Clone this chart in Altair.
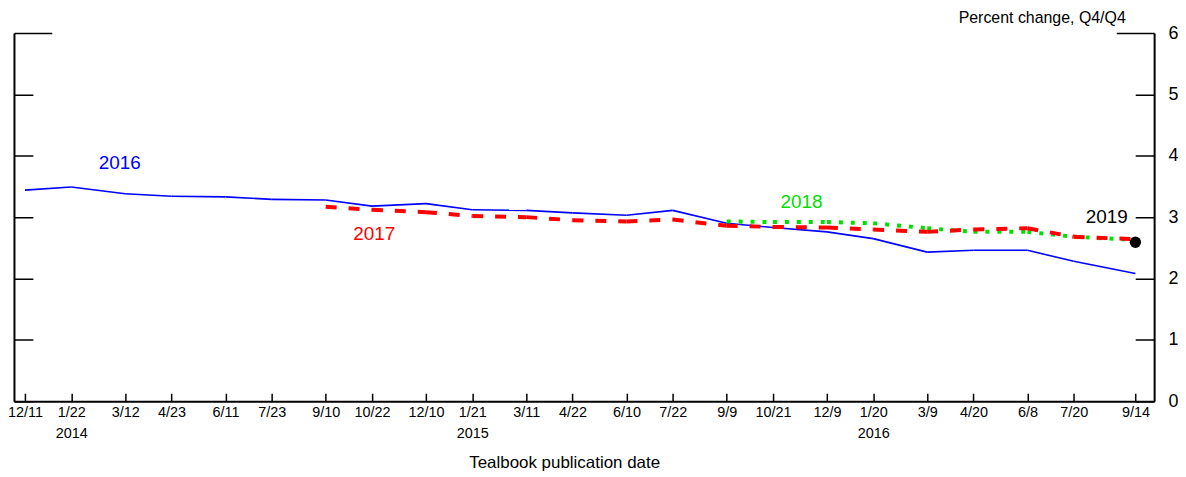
import altair as alt
import pandas as pd

# Tealbook publication dates
dates = [
    "2013-12-11", "2014-01-22", "2014-03-12", "2014-04-23", "2014-06-11",
    "2014-07-23", "2014-09-10", "2014-10-22", "2014-12-10", "2015-01-21",
    "2015-03-11", "2015-04-22", "2015-06-10", "2015-07-22", "2015-09-09",
    "2015-10-21", "2015-12-09", "2016-01-20", "2016-03-09", "2016-04-20",
    "2016-06-08", "2016-07-20", "2016-09-14",
]

# Forecasts (percent change, Q4/Q4) for each year, aligned to the last dates
year_2016 = [3.44, 3.49, 3.38, 3.34, 3.33, 3.29, 3.28, 3.18, 3.22, 3.12, 3.11,
             3.07, 3.03, 3.11, 2.90, 2.83, 2.76, 2.65, 2.43, 2.46, 2.46, 2.28, 2.08]
year_2017 = [3.17, 3.12, 3.08, 3.02, 3.00, 2.95, 2.93, 2.96, 2.86, 2.84, 2.83,
             2.80, 2.76, 2.80, 2.82, 2.68, 2.64]
year_2018 = [2.93, 2.92, 2.92, 2.90, 2.82, 2.76, 2.76, 2.68, 2.63]
year_2019 = [2.59]

series_names = ["2016", "2017", "2018", "2019"]
series_colors = ["#0000ff", "#ff0000", "#00e000", "#000000"]
label_dates = ["2014-03-07", "2014-10-24", "2015-11-16", "2016-08-19"]
label_values = [3.89, 2.73, 3.25, 3.00]
y_ticks = [0, 1, 2, 3, 4, 5, 6]


def segments(vals):
    start = len(dates) - len(vals)
    d = dates[start:]
    rows = []
    for i in range(len(vals) - 1):
        rows.append({"seg": i, "date": d[i], "value": vals[i]})
        rows.append({"seg": i, "date": d[i + 1], "value": vals[i + 1]})
    return pd.DataFrame(rows)


def dt(s):
    y, m, d = (int(p) for p in s.split("-"))
    return alt.DateTime(year=y, month=m, date=d, utc=True)


FONT = "Liberation Sans"

x_axis = alt.Axis(
    values=[dt(s) for s in dates],
    domain=True, domainColor="black", domainWidth=2,
    ticks=False,
    grid=True, gridColor="black", gridWidth=1.5, gridOpacity=1,
    gridDash=[0, 362, 8, 1000],
    labelExpr="utcmonth(datum.value) == 0 ? [utcFormat(datum.value, '%-m/%-d'), utcFormat(datum.value, '%Y')] : utcFormat(datum.value, '%-m/%-d')",
    labelFontSize=14.5, labelFont=FONT, labelColor="black",
    labelPadding=4, labelLineHeight=22,
    labelFlush=False, labelOverlap=False, labelBound=False,
    title="Tealbook publication date", titleFont=FONT, titleFontSize=17,
    titleFontWeight="normal", titleColor="black",
    titleX=553, titleY=67, titleAlign="center", titleBaseline="alphabetic",
)

x_enc = alt.X(
    "date:T",
    scale=alt.Scale(type="utc", domain=[dt("2013-12-01"), dt("2016-10-01")]),
    axis=x_axis,
)

y_scale = alt.Scale(domain=[0, 6])

left_axis = alt.Axis(
    orient="left", values=y_ticks,
    domain=True, domainColor="black", domainWidth=2,
    ticks=False, labels=False, title=None,
    grid=True, gridColor="black", gridWidth=1.5, gridOpacity=1,
    gridDash={"condition": {"test": "datum.value == 6", "value": [38, 1070]},
              "value": [19, 1108]},
)

right_axis = alt.Axis(
    orient="right", values=y_ticks,
    domain=True, domainColor="black", domainWidth=2,
    ticks=False, grid=False,
    labelFontSize=18, labelFont=FONT, labelColor="black", labelPadding=14,
    title="Percent change, Q4/Q4", titleFont=FONT, titleFontSize=16,
    titleFontWeight="normal", titleColor="black", titleAngle=0,
    titleAlign="right", titleBaseline="alphabetic", titleX=-29, titleY=-11,
)

blue = alt.Chart(segments(year_2016)).mark_line(
    color=series_colors[0], strokeWidth=1.6
).encode(
    x=x_enc,
    y=alt.Y("value:Q", scale=y_scale, axis=left_axis),
    detail="seg:N",
)

red = alt.Chart(segments(year_2017)).mark_line(
    color=series_colors[1], strokeWidth=4, strokeDash=[11, 12]
).encode(
    x=x_enc,
    y=alt.Y("value:Q", scale=y_scale, axis=right_axis),
    detail="seg:N",
)

green = alt.Chart(segments(year_2018)).mark_line(
    color=series_colors[2], strokeWidth=4, strokeDash=[4, 8]
).encode(
    x=x_enc,
    y=alt.Y("value:Q", scale=y_scale, axis=None),
    detail="seg:N",
)

dot_df = pd.DataFrame({"date": dates[len(dates) - len(year_2019):], "value": year_2019})
dot = alt.Chart(dot_df).mark_circle(color="black", size=130, opacity=1).encode(
    x=x_enc,
    y=alt.Y("value:Q", scale=y_scale, axis=None),
)

lab_df = pd.DataFrame({"date": label_dates, "value": label_values, "name": series_names})
labels = alt.Chart(lab_df).mark_text(
    fontSize=19, font=FONT, align="center", baseline="middle"
).encode(
    x=x_enc,
    y=alt.Y("value:Q", scale=y_scale, axis=None),
    text="name:N",
    color=alt.Color("name:N", scale=alt.Scale(domain=series_names, range=series_colors), legend=None),
)

chart = alt.layer(blue, green, red, dot, labels).resolve_axis(
    y="independent"
).properties(
    width=1146, height=370,
    autosize=alt.AutoSizeParams(type="none"),
    padding={"left": 6, "top": 24, "right": 24, "bottom": 78},
).configure(
    font=FONT
).configure_view(
    stroke="transparent"
)

chart.save("out.html", embed_options={"renderer": "svg", "actions": False})
